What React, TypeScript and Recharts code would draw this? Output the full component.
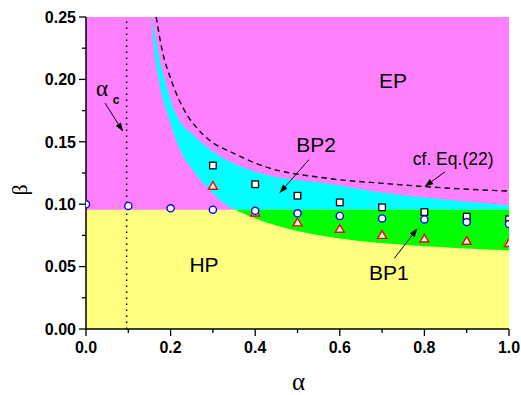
import { ComposedChart, XAxis, YAxis, Area, Line, Scatter, ReferenceLine, CartesianGrid } from 'recharts';

// phase boundaries, each point is [alpha, beta]
const lowerEdge: [number, number][] = [
  [0.155, 0.25], [0.161, 0.225], [0.173, 0.198], [0.195, 0.17], [0.226, 0.141],
  [0.252, 0.1274], [0.285, 0.114], [0.325, 0.101], [0.352, 0.0955], [0.4, 0.0885],
  [0.45, 0.083], [0.5, 0.0785], [0.6, 0.0725], [0.75, 0.0675], [0.9, 0.0645], [1.0, 0.063],
];
const upperEdge: [number, number][] = [
  [0.158, 0.25], [0.169, 0.225], [0.187, 0.198], [0.213, 0.172], [0.258, 0.154],
  [0.305, 0.141], [0.388, 0.1274], [0.42, 0.124], [0.565, 0.1167], [0.71, 0.1087],
  [0.85, 0.1035], [1.0, 0.099],
];
const eq22: [number, number][] = [
  [0.166, 0.25], [0.179, 0.225], [0.203, 0.198], [0.238, 0.172], [0.265, 0.16],
  [0.293, 0.151], [0.348, 0.141], [0.415, 0.131], [0.565, 0.121], [0.71, 0.1165],
  [0.85, 0.113], [1.0, 0.1105],
];
const hpLevel = 0.0955;
const alphaJoin = 0.352;
const alphaC = 0.096;

// simulation points
const squareA = [0.3, 0.4, 0.5, 0.6, 0.7, 0.8, 0.9, 1.0];
const squareB = [0.131, 0.116, 0.1068, 0.1015, 0.0975, 0.0937, 0.09, 0.0879];
const circleA = [0, 0.1, 0.2, 0.3, 0.4, 0.5, 0.6, 0.7, 0.8, 0.9, 1.0];
const circleB = [0.0999, 0.0986, 0.0967, 0.0956, 0.0947, 0.0927, 0.0906, 0.0886, 0.0878, 0.0857, 0.0841];
const triA = [0.3, 0.4, 0.5, 0.6, 0.7, 0.8, 0.9, 1.0];
const triB = [0.1146, 0.0932, 0.0853, 0.0802, 0.0753, 0.0723, 0.0705, 0.0687];

const xTicks = [0, 0.1, 0.2, 0.3, 0.4, 0.5, 0.6, 0.7, 0.8, 0.9, 1.0];
const yTicks = [0, 0.025, 0.05, 0.075, 0.1, 0.125, 0.15, 0.175, 0.2, 0.225, 0.25];

// region labels: [alpha, beta, text, size]
const labels: [number, number, string, number][] = [
  [0.726, 0.193, 'EP', 21],
  [0.544, 0.1418, 'BP2', 21],
  [0.868, 0.1314, 'cf. Eq.(22)', 17.5],
  [0.716, 0.0393, 'BP1', 21],
  [0.279, 0.0457, 'HP', 21],
];
// arrows: tail -> tip
const arrows: [number, number, number, number][] = [
  [0.045, 0.181, 0.088, 0.158],
  [0.527, 0.1357, 0.457, 0.1087],
  [0.849, 0.126, 0.8, 0.114],
  [0.729, 0.0567, 0.784, 0.0807],
];

const pts = (arr: [number, number][]) => arr.map(([a, b]) => ({ a, b }));
const zip = (as: number[], bs: number[]) => as.map((a, i) => ({ a, b: bs[i] }));

const MAGENTA = '#FF80FF';
const CYAN = '#00FFFF';
const GREEN = '#00FF00';
const YELLOW = '#FFFF80';
const SANS = '"Liberation Sans", Arial, sans-serif';
const SERIF = '"Liberation Serif", "Times New Roman", serif';

const YTick = (p: any) => {
  const { x, y, payload } = p;
  const major = Math.round(payload.value * 40) % 2 === 0;
  return (
    <g>
      <line x1={x} x2={x - (major ? 7 : 4)} y1={y} y2={y} stroke="#000" strokeWidth={1.3} />
      {major && (
        <text x={x - 10} y={y} dy="0.36em" textAnchor="end" fontFamily={SANS} fontWeight="bold" fontSize={16} fill="#000">
          {payload.value.toFixed(2)}
        </text>
      )}
    </g>
  );
};

const XTick = (p: any) => {
  const { x, y, payload } = p;
  const major = Math.round(payload.value * 10) % 2 === 0;
  return (
    <g>
      <line x1={x} x2={x} y1={y} y2={y + (major ? 7 : 4)} stroke="#000" strokeWidth={1.3} />
      {major && (
        <text x={x} y={y + 24} textAnchor="middle" fontFamily={SANS} fontWeight="bold" fontSize={16} fill="#000">
          {payload.value.toFixed(1)}
        </text>
      )}
    </g>
  );
};

const Arrow = (p: any) => {
  const { x1, y1, x2, y2 } = p;
  const dx = x2 - x1, dy = y2 - y1;
  const len = Math.sqrt(dx * dx + dy * dy);
  const ux = dx / len, uy = dy / len;
  const hl = 9, hw = 3;
  const bx = x2 - ux * hl, by = y2 - uy * hl;
  return (
    <g>
      <line x1={x1} y1={y1} x2={bx} y2={by} stroke="#000" strokeWidth={1} />
      <polygon
        points={`${x2},${y2} ${bx - uy * hw},${by + ux * hw} ${bx + uy * hw},${by - ux * hw}`}
        fill="#000"
      />
    </g>
  );
};

const SquareDot = (p: any) => (
  <rect x={p.cx - 3.3} y={p.cy - 3.3} width={6.6} height={6.6} fill="#fff" stroke="#000" strokeWidth={1.3} />
);
const CircleDot = (p: any) => (
  <circle cx={p.cx} cy={p.cy} r={3.6} fill="#fff" stroke="#0000FF" strokeWidth={1.4} />
);
const TriDot = (p: any) => (
  <polygon
    points={`${p.cx},${p.cy - 4.3} ${p.cx + 4.5},${p.cy + 3.3} ${p.cx - 4.5},${p.cy + 3.3}`}
    fill="#fff"
    stroke="#FF0000"
    strokeWidth={1.4}
  />
);
const LabelText = (p: any) => (
  <text x={p.cx} y={p.cy} textAnchor="middle" fontFamily={SANS} fontSize={p.payload.size} fill="#000">
    {p.payload.text}
  </text>
);

export default function App() {
  const labelData = labels.map(([a, b, text, size]) => ({ a, b, text, size }));
  // BP1 band: between the lower boundary and the HP level
  const bp1Band = lowerEdge
    .filter(([a]) => a >= alphaJoin)
    .map(([a, b]) => ({ a, band: [b, hpLevel] }));
  return (
    <div style={{ position: 'absolute', left: 0, top: 0, background: '#fff' }}>
      <ComposedChart width={521} height={395} margin={{ top: 17, right: 12, bottom: 0, left: 0 }}>
        <CartesianGrid horizontal={false} vertical={false} fill={MAGENTA} fillOpacity={1} />
        <XAxis
          type="number"
          dataKey="a"
          domain={[0, 1]}
          ticks={xTicks}
          interval={0}
          allowDataOverflow
          height={66}
          tickSize={0}
          tickMargin={0}
          tick={<XTick />}
          axisLine={{ stroke: '#000', strokeWidth: 1.5 }}
          label={(lp: any) => {
            const vb = lp.viewBox;
            return (
              <text x={vb.x + vb.width / 2 + 1} y={vb.y + 61} textAnchor="middle" fontFamily={SERIF} fontSize={25} fill="#000">
                α
              </text>
            );
          }}
        />
        <YAxis
          type="number"
          dataKey="b"
          domain={[0, 0.25]}
          ticks={yTicks}
          interval={0}
          allowDataOverflow
          width={86}
          tickSize={0}
          tickMargin={0}
          tick={<YTick />}
          axisLine={{ stroke: '#000', strokeWidth: 1.5 }}
          label={(lp: any) => {
            const vb = lp.viewBox;
            const cx = vb.x + 27;
            const cy = vb.y + vb.height / 2 + 17;
            return (
              <text x={cx} y={cy} transform={`rotate(-90, ${cx}, ${cy})`} textAnchor="middle" fontFamily={SERIF} fontSize={22} fill="#000">
                β
              </text>
            );
          }}
        />

        <Area data={pts(upperEdge)} dataKey="b" type="monotone" baseValue={0} fill={CYAN} fillOpacity={1} stroke="none" isAnimationActive={false} />
        <Area data={pts(lowerEdge)} dataKey="b" type="monotone" baseValue={0} fill={MAGENTA} fillOpacity={1} stroke="none" isAnimationActive={false} />
        <Area
          data={[{ a: 0, b: hpLevel }, { a: 1, b: hpLevel }]}
          dataKey="b" type="linear" baseValue={0} fill={YELLOW} fillOpacity={1} stroke="none" isAnimationActive={false}
        />
        <Area data={bp1Band} dataKey="band" type="monotone" fill={GREEN} fillOpacity={1} stroke="none" isAnimationActive={false} />

        <Line data={pts(eq22)} dataKey="b" type="monotone" stroke="#000" strokeWidth={1.4} strokeDasharray="5.5 4" dot={false} isAnimationActive={false} />
        <Line
          data={[{ a: alphaC, b: 0 }, { a: alphaC, b: 0.25 }]}
          dataKey="b" type="linear" stroke="#000" strokeWidth={1.5} strokeDasharray="1.5 4.5" dot={false} isAnimationActive={false}
        />

        <Scatter data={zip(squareA, squareB)} dataKey="b" shape={SquareDot} isAnimationActive={false} />
        <Scatter data={zip(triA, triB)} dataKey="b" shape={TriDot} isAnimationActive={false} />
        <Scatter data={zip(circleA, circleB)} dataKey="b" shape={CircleDot} isAnimationActive={false} />

        <Scatter data={labelData} dataKey="b" shape={LabelText} isAnimationActive={false} />
        <Scatter
          data={[{ a: 0.038, b: 0.1867 }]}
          dataKey="b"
          isAnimationActive={false}
          shape={(p: any) => (
            <text x={p.cx} y={p.cy} textAnchor="middle" fontFamily={SERIF} fontSize={23} fill="#000">α</text>
          )}
        />
        <Scatter
          data={[{ a: 0.071, b: 0.1805 }]}
          dataKey="b"
          isAnimationActive={false}
          shape={(p: any) => (
            <text x={p.cx} y={p.cy} textAnchor="middle" fontFamily={SANS} fontWeight="bold" fontSize={12} fill="#000">c</text>
          )}
        />

        {arrows.map(([a1, b1, a2, b2], i) => (
          <ReferenceLine
            key={i}
            segment={[{ x: a1, y: b1 }, { x: a2, y: b2 }]}
            shape={Arrow}
          />
        ))}
      </ComposedChart>
    </div>
  );
}
